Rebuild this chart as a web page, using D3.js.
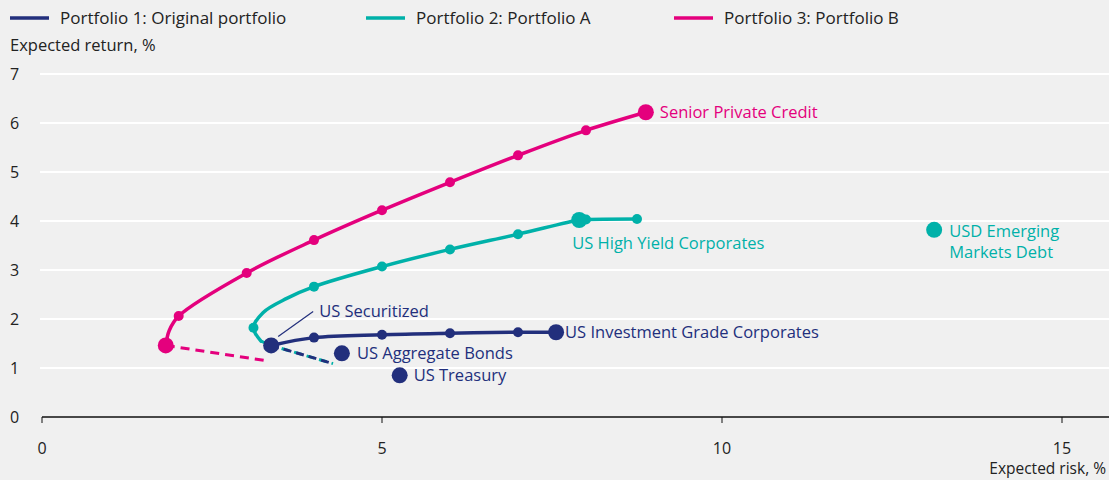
<!DOCTYPE html>
<html>
<head>
<meta charset="utf-8">
<title>Expected risk and return</title>
<script src="https://cdn.jsdelivr.net/npm/d3@7"></script>
<style>
  body { margin: 0; background: #f0f0f0; }
  svg { display: block; font-family: "Open Sans", sans-serif; }
</style>
</head>
<body>
<svg id="chart"></svg>
<script>
// legend entries
const seriesNames = ["Portfolio 1: Original portfolio", "Portfolio 2: Portfolio A", "Portfolio 3: Portfolio B"];
const seriesColors = ["#222f7c", "#00b1a9", "#e4007d"];

// frontier paths: [risk, return]
const p1Line = [[3.37, 1.46], [4.0, 1.62], [5.0, 1.68], [6.0, 1.71], [7.0, 1.73], [7.56, 1.73]];
const p1Dash = [[3.37, 1.46], [4.28, 1.09]];
const p1Dots = [[4.0, 1.62], [5.0, 1.68], [6.0, 1.71], [7.0, 1.73]];

const p2Line = [[3.22, 1.55], [3.11, 1.82], [3.25, 2.13], [3.6, 2.42], [4.0, 2.66],
                [5.0, 3.07], [6.0, 3.42], [7.0, 3.73], [7.9, 4.02], [8.0, 4.03], [8.75, 4.04]];
const p2Dash = [[3.22, 1.55], [3.37, 1.46], [4.28, 1.09]];
const p2Dots = [[3.11, 1.82], [4.0, 2.66], [5.0, 3.07], [6.0, 3.42], [7.0, 3.73], [8.0, 4.03], [8.75, 4.04]];

const p3Line = [[1.82, 1.46], [1.87, 1.76], [2.01, 2.06], [3.01, 2.94],
                [4.0, 3.61], [5.0, 4.22], [6.0, 4.79], [7.0, 5.34], [8.0, 5.85], [8.88, 6.22]];
const p3Dash = [[1.82, 1.46], [3.3, 1.15]];
const p3Dots = [[2.01, 2.06], [3.01, 2.94], [4.0, 3.61], [5.0, 4.22], [6.0, 4.79], [7.0, 5.34], [8.0, 5.85]];

// single asset classes (big dots); label lines split with "|"
const assetNames = ["Senior Private Credit", "US High Yield Corporates", "USD Emerging|Markets Debt",
                    "US Investment Grade Corporates", "US Securitized", "US Aggregate Bonds", "US Treasury", ""];
const assetRisk = [8.88, 7.9, 13.12, 7.56, 3.37, 4.41, 5.26, 1.82];
const assetReturn = [6.22, 4.02, 3.82, 1.73, 1.46, 1.30, 0.85, 1.46];
const assetSeries = [2, 1, 1, 0, 0, 0, 0, 2];

const xTicks = [0, 5, 10, 15];
const yTicks = [0, 1, 2, 3, 4, 5, 6, 7];

const width = 1109, height = 480;
const svg = d3.select("#chart").attr("width", width).attr("height", height);

const x = d3.scaleLinear().domain([0, 15]).range([42, 1062]);
const y = d3.scaleLinear().domain([0, 7]).range([417, 74]);

// gridlines
svg.append("g").selectAll("line")
  .data(yTicks.filter(d => d > 0))
  .join("line")
  .attr("x1", 40).attr("x2", width)
  .attr("y1", d => y(d)).attr("y2", d => y(d))
  .attr("stroke", "#fff").attr("stroke-width", 2);

// y labels
svg.append("g").selectAll("text")
  .data(yTicks)
  .join("text")
  .attr("x", 10).attr("y", d => y(d))
  .attr("dy", "0.35em")
  .attr("font-size", 16).attr("fill", "#222")
  .text(d => d);

svg.append("text").attr("x", 10).attr("y", 45).attr("dy", "0.35em")
  .attr("font-size", 16.5).attr("fill", "#222").text("Expected return, %");

// x axis
const xAxis = svg.append("g").attr("transform", `translate(0,${y(0)})`);
xAxis.append("line").attr("x1", x(0)).attr("x2", width).attr("stroke", "#111").attr("stroke-width", 1.5);
xAxis.selectAll(".tk").data(xTicks).join("line").attr("class", "tk")
  .attr("x1", d => x(d)).attr("x2", d => x(d)).attr("y1", 0).attr("y2", 6)
  .attr("stroke", "#111").attr("stroke-width", 1);
xAxis.selectAll("text").data(xTicks).join("text")
  .attr("x", d => x(d)).attr("y", 31).attr("dy", "0.35em")
  .attr("text-anchor", "middle").attr("font-size", 16).attr("fill", "#222")
  .text(d => d);
svg.append("text").attr("x", 1106).attr("y", 469).attr("dy", "0.35em")
  .attr("text-anchor", "end").attr("font-size", 15.5).attr("fill", "#222").text("Expected risk, %");

// legend
const legendX = [10, 366, 674];
const lg = svg.append("g").selectAll("g").data(seriesNames).join("g")
  .attr("transform", (d, i) => `translate(${legendX[i]},18)`);
lg.append("line").attr("x1", 0).attr("x2", 39).attr("stroke", (d, i) => seriesColors[i]).attr("stroke-width", 3.5);
lg.append("text").attr("x", 50).attr("dy", "0.35em").attr("font-size", 17).attr("fill", "#222").text(d => d);

const solid = d3.line().x(d => x(d[0])).y(d => y(d[1])).curve(d3.curveCatmullRom.alpha(0.5));
const straight = d3.line().x(d => x(d[0])).y(d => y(d[1]));

const series = [
  { line: p1Line, dash: p1Dash, dots: p1Dots },
  { line: p2Line, dash: p2Dash, dots: p2Dots },
  { line: p3Line, dash: p3Dash, dots: p3Dots }
];
const plot = svg.append("g");

// dashed (inefficient) parts first: teal under navy with offset
[2, 1, 0].forEach(i => {
  const s = series[i];
  plot.append("path").attr("d", straight(s.dash)).attr("fill", "none")
    .attr("stroke", seriesColors[i]).attr("stroke-width", 3)
    .attr("stroke-dasharray", i === 2 ? "9,6" : "8,5")
    .attr("stroke-dashoffset", i === 1 ? 4 : 0);
});

[2, 1, 0].forEach(i => {
  const s = series[i];
  plot.append("path").attr("d", solid(s.line)).attr("fill", "none")
    .attr("stroke", seriesColors[i]).attr("stroke-width", 3.5)
    .attr("stroke-linejoin", "round").attr("stroke-linecap", "round");
  plot.append("g").selectAll("circle").data(s.dots).join("circle")
    .attr("cx", d => x(d[0])).attr("cy", d => y(d[1])).attr("r", 5)
    .attr("fill", seriesColors[i]);
});

// asset dots
plot.append("g").selectAll("circle").data(assetRisk).join("circle")
  .attr("cx", d => x(d)).attr("cy", (d, i) => y(assetReturn[i])).attr("r", 8)
  .attr("fill", (d, i) => seriesColors[assetSeries[i]]);

// asset labels, one text per line
const labelOffset = [[14, 0], [-7, 23], [15, 1], [9, 0], [48, -34], [15, 0], [14, 0], [0, 0]];
const labelLines = [];
assetNames.forEach((name, i) => {
  if (!name) return;
  name.split("|").forEach((line, j) => labelLines.push({ line, i, j }));
});
svg.append("g").selectAll("text").data(labelLines).join("text")
  .attr("x", d => x(assetRisk[d.i]) + labelOffset[d.i][0])
  .attr("y", d => y(assetReturn[d.i]) + labelOffset[d.i][1] + d.j * 21)
  .attr("dy", "0.35em").attr("font-size", 16.5)
  .attr("fill", d => seriesColors[assetSeries[d.i]])
  .text(d => d.line);

// leader line for US Securitized
svg.append("line")
  .attr("x1", x(3.37) + 7).attr("y1", y(1.46) - 9)
  .attr("x2", x(3.37) + 42).attr("y2", y(1.46) - 34)
  .attr("stroke", seriesColors[0]).attr("stroke-width", 1.2);
</script>
</body>
</html>
